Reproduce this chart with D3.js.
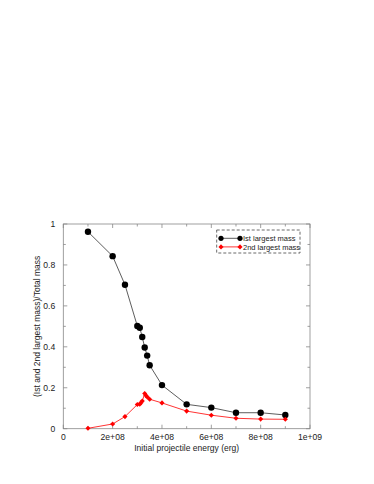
<!DOCTYPE html>
<html>
<head>
<meta charset="utf-8">
<script src="https://cdn.jsdelivr.net/npm/d3@7"></script>
<style>
body { margin: 0; background: #fff; }
text { font-family: "Liberation Sans", Arial, sans-serif; fill: #222; }
</style>
</head>
<body>
<svg width="374" height="484"></svg>
<script>
var energy1 = [1e8, 2e8, 2.5e8, 3e8, 3.1e8, 3.2e8, 3.3e8, 3.4e8, 3.5e8, 4e8, 5e8, 6e8, 7e8, 8e8, 9e8];
var first = [0.962, 0.843, 0.703, 0.502, 0.493, 0.448, 0.397, 0.357, 0.31, 0.213, 0.119, 0.103, 0.078, 0.078, 0.067];
var energy2 = [1e8, 2e8, 2.5e8, 3e8, 3.1e8, 3.15e8, 3.2e8, 3.3e8, 3.35e8, 3.4e8, 3.5e8, 4e8, 5e8, 6e8, 7e8, 8e8, 9e8];
var second = [0.002, 0.023, 0.059, 0.118, 0.12, 0.127, 0.135, 0.172, 0.162, 0.155, 0.144, 0.126, 0.086, 0.066, 0.051, 0.047, 0.046];
var xTicks = [0, 2e8, 4e8, 6e8, 8e8, 1e9];
var xTickLabels = ['0', '2e+08', '4e+08', '6e+08', '8e+08', '1e+09'];
var yTicks = [0, 0.2, 0.4, 0.6, 0.8, 1];
var seriesNames = ['Ist largest mass', '2nd largest mass'];

var svg = d3.select('svg');
var plotLeft = 63.3, plotRight = 310, plotTop = 224, plotBottom = 428.7;

var x = d3.scaleLinear().domain([0, 1e9]).range([plotLeft, plotRight]);
var y = d3.scaleLinear().domain([0, 1]).range([plotBottom, plotTop]);

// frame
svg.append('rect')
    .attr('x', plotLeft).attr('y', plotTop)
    .attr('width', plotRight - plotLeft).attr('height', plotBottom - plotTop)
    .attr('fill', 'none').attr('stroke', '#888').attr('stroke-width', 0.8);

// ticks on all sides, pointing inward
var frame = svg.append('g').attr('stroke', '#888').attr('stroke-width', 0.8);
d3.range(0, 11).forEach(function(i) {
    var v = i * 1e8;
    var len = i % 2 === 0 ? 4 : 2.5;
    frame.append('line').attr('x1', x(v)).attr('x2', x(v)).attr('y1', plotBottom).attr('y2', plotBottom - len);
    frame.append('line').attr('x1', x(v)).attr('x2', x(v)).attr('y1', plotTop).attr('y2', plotTop + len);
});
d3.range(0, 11).forEach(function(i) {
    var v = i / 10;
    var len = i % 2 === 0 ? 4 : 2.5;
    frame.append('line').attr('y1', y(v)).attr('y2', y(v)).attr('x1', plotLeft).attr('x2', plotLeft + len);
    frame.append('line').attr('y1', y(v)).attr('y2', y(v)).attr('x1', plotRight).attr('x2', plotRight - len);
});

// tick labels
svg.append('g').selectAll('text').data(xTicks).enter().append('text')
    .attr('x', function(d) { return x(d); })
    .attr('y', plotBottom + 11)
    .attr('text-anchor', 'middle')
    .attr('font-size', 8.6)
    .text(function(d, i) { return xTickLabels[i]; });
svg.append('g').selectAll('text').data(yTicks).enter().append('text')
    .attr('x', plotLeft - 8)
    .attr('y', function(d) { return y(d) + 3; })
    .attr('text-anchor', 'end')
    .attr('font-size', 8.6)
    .text(function(d) { return d3.format('~g')(d); });

// axis titles
svg.append('text')
    .attr('x', (plotLeft + plotRight) / 2).attr('y', plotBottom + 22)
    .attr('text-anchor', 'middle').attr('font-size', 8.5)
    .text('Initial projectile energy (erg)');
svg.append('text')
    .attr('transform', 'translate(40,' + (plotTop + plotBottom) / 2 + ') rotate(-90)')
    .attr('text-anchor', 'middle').attr('font-size', 8.5)
    .text('(Ist and 2nd largest mass)/Total mass');

var line = d3.line().x(function(d) { return x(d[0]); }).y(function(d) { return y(d[1]); });
var pts1 = d3.zip(energy1, first);
var pts2 = d3.zip(energy2, second);

svg.append('path').datum(pts1).attr('d', line)
    .attr('fill', 'none').attr('stroke', '#333').attr('stroke-width', 0.8);
svg.append('g').selectAll('circle').data(pts1).enter().append('circle')
    .attr('cx', function(d) { return x(d[0]); })
    .attr('cy', function(d) { return y(d[1]); })
    .attr('r', 3.2).attr('fill', '#000');

svg.append('path').datum(pts2).attr('d', line)
    .attr('fill', 'none').attr('stroke', '#f00').attr('stroke-width', 0.8);
var diamond = d3.symbol().type(d3.symbolSquare).size(13);
svg.append('g').selectAll('path').data(pts2).enter().append('path')
    .attr('transform', function(d) { return 'translate(' + x(d[0]) + ',' + y(d[1]) + ') rotate(45)'; })
    .attr('d', diamond).attr('fill', '#f00');

// legend
var lg = svg.append('g');
lg.append('rect')
    .attr('x', 216.7).attr('y', 230).attr('width', 83.3).attr('height', 23)
    .attr('fill', '#fff').attr('stroke', '#444').attr('stroke-width', 0.8)
    .attr('stroke-dasharray', '3,2');
[0, 1].forEach(function(i) {
    var ly = 238.3 + i * 8.6;
    var col = i === 0 ? '#333' : '#f00';
    lg.append('line').attr('x1', 221).attr('x2', 240).attr('y1', ly).attr('y2', ly)
        .attr('stroke', col).attr('stroke-width', 0.8);
    [221, 240].forEach(function(px) {
        if (i === 0) {
            lg.append('circle').attr('cx', px).attr('cy', ly).attr('r', 2.6).attr('fill', '#000');
        } else {
            lg.append('path').attr('transform', 'translate(' + px + ',' + ly + ') rotate(45)')
                .attr('d', diamond).attr('fill', '#f00');
        }
    });
    lg.append('text').attr('x', 243).attr('y', ly + 2.8).attr('font-size', 7.5)
        .text(seriesNames[i]);
});
</script>
</body>
</html>
